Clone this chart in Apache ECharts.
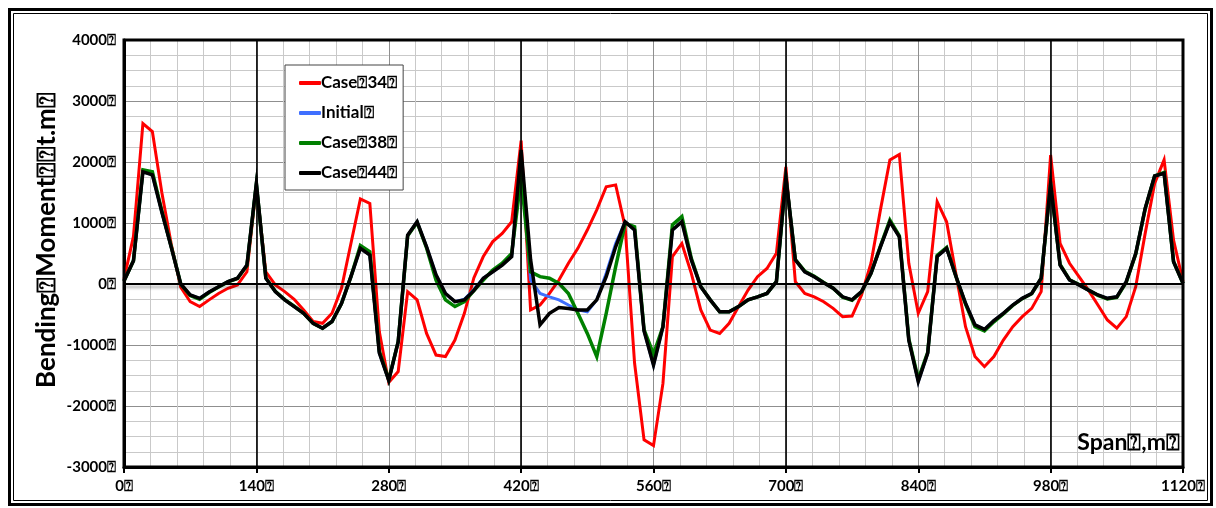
<!DOCTYPE html>
<html>
<head>
<meta charset="utf-8">
<script src="https://cdn.jsdelivr.net/npm/echarts@6/dist/echarts.min.js"></script>
<style>html,body{margin:0;padding:0;background:#fff;}#c{width:1216px;height:508px;}</style>
</head>
<body>
<div id="c"></div>
<script>
var BOX = '\u2370';
var spanX = [0,10,20,30,40,50,60,70,80,90,100,110,120,130,140,150,160,170,180,190,200,210,220,230,240,250,260,270,280,290,300,310,320,330,340,350,360,370,380,390,400,410,420,430,440,450,460,470,480,490,500,510,520,530,540,550,560,570,580,590,600,610,620,630,640,650,660,670,680,690,700,710,720,730,740,750,760,770,780,790,800,810,820,830,840,850,860,870,880,890,900,910,920,930,940,950,960,970,980,990,1000,1010,1020,1030,1040,1050,1060,1070,1080,1090,1100,1110,1120];

var case34 = [80,780,2630,2500,1500,650,-50,-290,-370,-260,-155,-70,-15,200,1600,200,-15,-125,-250,-425,-615,-645,-480,-70,665,1395,1320,-780,-1615,-1435,-125,-260,-810,-1165,-1190,-920,-480,100,450,695,830,1020,2350,-425,-345,-155,65,340,585,885,1215,1595,1625,940,-1300,-2555,-2650,-1630,450,665,175,-425,-755,-810,-645,-370,-100,120,255,505,1920,40,-155,-210,-290,-400,-535,-525,-180,340,1215,2035,2125,340,-480,-125,1350,1020,150,-700,-1190,-1355,-1190,-920,-700,-535,-400,-125,2115,665,340,120,-100,-345,-590,-725,-535,-45,830,1650,2035,720,40];

var initial = [50,380,1840,1790,1180,600,0,-180,-235,-130,-45,40,95,310,1650,95,-125,-260,-370,-480,-645,-725,-615,-320,120,585,475,-1130,-1580,-945,800,1020,610,150,-155,-290,-250,-90,95,200,310,450,2000,65,-155,-210,-260,-345,-425,-455,-260,175,665,1020,885,-770,-1330,-700,885,1020,395,-45,-260,-455,-455,-370,-260,-210,-155,40,1760,395,200,120,20,-70,-210,-260,-125,175,610,1020,775,-920,-1600,-1135,450,585,120,-315,-670,-745,-600,-480,-345,-235,-155,95,1650,310,65,-15,-100,-180,-235,-210,40,500,1240,1770,1815,365,10];

var case38 = [50,380,1870,1840,1200,610,0,-190,-250,-140,-50,35,90,300,1640,100,-120,-255,-365,-480,-645,-725,-615,-320,120,630,530,-1100,-1570,-945,790,1010,590,65,-260,-370,-290,-110,65,230,340,500,1750,200,120,95,10,-155,-480,-810,-1190,-480,285,995,940,-750,-1150,-700,970,1105,420,-40,-260,-455,-455,-370,-260,-210,-155,40,1740,400,210,125,25,-70,-215,-265,-130,175,620,1050,790,-900,-1560,-1120,470,600,120,-330,-700,-770,-620,-490,-350,-240,-160,90,1640,320,70,-10,-100,-185,-245,-220,30,490,1230,1770,1830,370,10];

var case44 = [50,380,1840,1790,1180,600,0,-180,-235,-130,-45,40,95,310,1650,95,-125,-260,-370,-480,-645,-725,-615,-320,120,585,475,-1130,-1580,-945,800,1020,610,150,-155,-290,-260,-110,95,200,310,450,2200,400,-670,-480,-385,-400,-425,-425,-260,120,610,1020,885,-770,-1330,-700,885,1020,395,-45,-260,-455,-455,-370,-260,-210,-155,40,1760,395,200,120,20,-70,-210,-260,-125,175,610,1020,775,-920,-1600,-1135,450,585,120,-315,-670,-745,-600,-480,-345,-235,-155,95,1650,310,65,-15,-100,-180,-235,-210,40,500,1240,1770,1815,365,10];

var seriesNames = ['Case' + BOX + '34' + BOX, 'Initial' + BOX, 'Case' + BOX + '38' + BOX, 'Case' + BOX + '44' + BOX];
var supportX = [140, 420, 700, 980];
var xTicks = {min: 0, max: 1120, step: 140};
var yTicks = {min: -3000, max: 4000, step: 1000};

function pairs(ys) { return spanX.map(function (x, i) { return [x, ys[i]]; }); }

var FONT = 'Lato, "Open Sans", "DejaVu Sans", sans-serif';
var chart = echarts.init(document.getElementById('c'), null, {renderer: 'canvas'});

var lineSeries = function (name, ys, color, w, z) {
  return {
    name: name, type: 'line', data: pairs(ys), symbol: 'none', showSymbol: false,
    lineStyle: {color: color, width: w, join: 'miter'}, itemStyle: {color: color},
    z: z, animation: false
  };
};

chart.setOption({
  animation: false,
  backgroundColor: '#fff',
  grid: {left: 124, right: 33, top: 40, bottom: 41, show: true, borderColor: '#000', borderWidth: 0, containLabel: false},
  xAxis: {
    type: 'value', min: xTicks.min, max: xTicks.max, interval: xTicks.step,
    axisLine: {show: true, onZero: false, lineStyle: {color: '#000', width: 3}},
    axisTick: {show: true, length: 6, lineStyle: {color: '#000', width: 2}},
    axisLabel: {formatter: function (v) { return v + BOX; }, fontFamily: FONT, fontWeight: 'bold', fontSize: 15, color: '#000', margin: 12},
    splitLine: {show: true, lineStyle: {color: '#8f8f8f', width: 1}},
    minorTick: {show: false, splitNumber: 5},
    minorSplitLine: {show: true, lineStyle: {color: '#c9c9c9', width: 1}}
  },
  yAxis: {
    type: 'value', min: yTicks.min, max: yTicks.max, interval: yTicks.step,
    axisLine: {show: true, onZero: false, lineStyle: {color: '#000', width: 3}},
    axisTick: {show: false},
    axisLabel: {formatter: function (v) { return v + BOX; }, fontFamily: FONT, fontWeight: 'bold', fontSize: 15, color: '#000', margin: 8},
    splitLine: {show: true, lineStyle: {color: '#8f8f8f', width: 1}},
    minorTick: {show: false, splitNumber: 4},
    minorSplitLine: {show: true, lineStyle: {color: '#c9c9c9', width: 1}}
  },
  legend: {
    data: seriesNames, orient: 'vertical', left: 285, top: 65,
    backgroundColor: '#fff', borderColor: '#444', borderWidth: 1,
    padding: [9, 6, 8, 14], itemGap: 12, itemWidth: 22, itemHeight: 4,
    icon: 'roundRect',
    textStyle: {fontFamily: FONT, fontWeight: 'bold', fontSize: 17, color: '#000', padding: [0, 0, 0, -5], height: 18, lineHeight: 18}
  },
  series: [
    {
      name: 'supports', type: 'line', data: [[0, 0]], symbol: 'none', lineStyle: {opacity: 0}, z: 1, silent: true,
      markLine: {
        silent: true, symbol: 'none', animation: false, label: {show: false},
        data: supportX.map(function (x) { return {xAxis: x, lineStyle: {color: '#000', width: 1.6, type: 'solid'}}; }).concat([
          {yAxis: 0, lineStyle: {color: '#000', width: 2, type: 'solid', shadowColor: 'rgba(0,0,0,0.35)', shadowBlur: 3, shadowOffsetY: 3}}
        ])
      }
    },
    lineSeries(seriesNames[0], case34, '#ff0000', 3, 2),
    lineSeries(seriesNames[1], initial, '#3f6fff', 3, 3),
    lineSeries(seriesNames[2], case38, '#008000', 3.5, 4),
    lineSeries(seriesNames[3], case44, '#000000', 3.5, 5)
  ],
  graphic: [
    {type: 'rect', shape: {x: 9.5, y: 9.5, width: 1202, height: 495}, style: {fill: 'none', stroke: '#000', lineWidth: 3}, silent: true, z: 100},
    {type: 'rect', shape: {x: 13.5, y: 13.5, width: 1194, height: 487}, style: {fill: 'none', stroke: '#000', lineWidth: 1}, silent: true, z: 100},
    {type: 'rect', shape: {x: 124, y: 40, width: 1059, height: 427}, style: {fill: 'none', stroke: '#000', lineWidth: 3}, silent: true, z: 50},
    {type: 'text', x: 47, y: 240, rotation: Math.PI / 2,
      style: {text: 'Bending' + BOX + 'Moment' + BOX + BOX + 't.m' + BOX, fontFamily: FONT, fontWeight: 'bold', fontSize: 26, fill: '#000', align: 'center', verticalAlign: 'middle'}, z: 60},
    {type: 'text', x: 1180, y: 443,
      style: {text: 'Span' + BOX + ',m' + BOX, fontFamily: FONT, fontWeight: 'bold', fontSize: 23, fill: '#000', align: 'right', verticalAlign: 'middle'}, z: 60}
  ]
});
</script>
</body>
</html>
